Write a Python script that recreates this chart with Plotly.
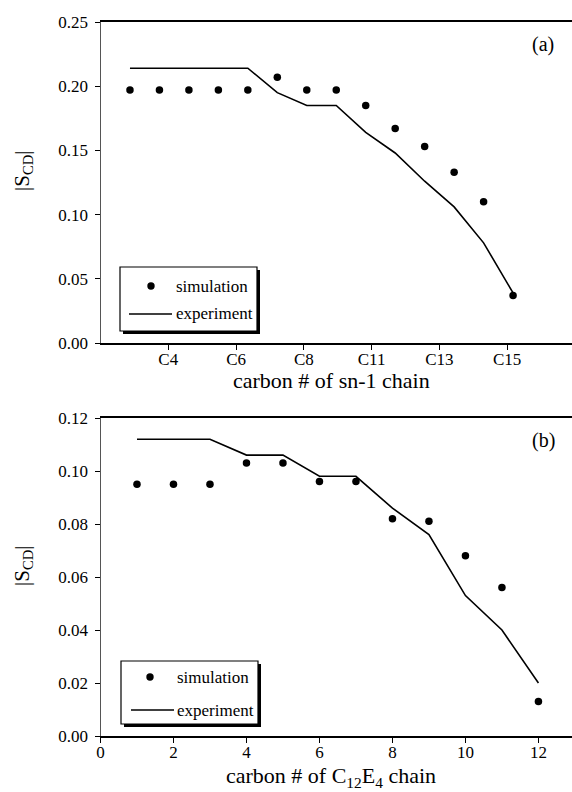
import plotly.graph_objects as go

W, H = 572, 792
FONT = "Liberation Serif"

# ---- panel (a): order parameter along the sn-1 chain ----
sn1_pos = list(range(1, 15))
sn1_sim = [0.197, 0.197, 0.197, 0.197, 0.197, 0.207, 0.197, 0.197,
           0.185, 0.167, 0.153, 0.133, 0.110, 0.037]
sn1_exp = [0.214, 0.214, 0.214, 0.214, 0.214, 0.195, 0.185, 0.185,
           0.164, 0.148, 0.126, 0.106, 0.078, 0.039]
sn1_tick_text = ["C4", "C6", "C8", "C11", "C13", "C15"]
sn1_tick_pos = [2.3, 4.6, 6.9, 9.2, 11.5, 13.8]
sn1_yticks = [0.00, 0.05, 0.10, 0.15, 0.20, 0.25]

# ---- panel (b): order parameter along the C12E4 chain ----
c12_pos = list(range(1, 13))
c12_sim = [0.095, 0.095, 0.095, 0.103, 0.103, 0.096, 0.096, 0.082,
           0.081, 0.068, 0.056, 0.013]
c12_exp = [0.112, 0.112, 0.112, 0.106, 0.106, 0.098, 0.098, 0.086,
           0.076, 0.053, 0.040, 0.020]
c12_xticks = [0, 2, 4, 6, 8, 10, 12]
c12_yticks = [0.00, 0.02, 0.04, 0.06, 0.08, 0.10, 0.12]


def fx(px):
    return px / W


def fy(py):
    return 1 - py / H


fig = go.Figure()

for xa, ya, xs, sim, exp in [("x", "y", sn1_pos, sn1_sim, sn1_exp),
                             ("x2", "y2", c12_pos, c12_sim, c12_exp)]:
    fig.add_trace(go.Scatter(x=xs, y=exp, mode="lines", xaxis=xa, yaxis=ya,
                             line=dict(color="black", width=1.6),
                             name="experiment", showlegend=False))
    fig.add_trace(go.Scatter(x=xs, y=sim, mode="markers", xaxis=xa, yaxis=ya,
                             marker=dict(color="black", size=7.5),
                             name="simulation", showlegend=False))

x_common = dict(showgrid=False, zeroline=False, showline=True, linecolor="black",
                linewidth=1.5, mirror=True, ticks="outside", ticklen=5, tickwidth=1,
                tickcolor="black", tickfont=dict(family=FONT, size=17, color="black"),
                automargin=False, fixedrange=True, ticklabelstandoff=-5)
y_common = dict(showgrid=False, zeroline=False, showline=True, linecolor="#555",
                linewidth=1, ticks="outside", ticklen=5, tickwidth=1,
                tickcolor="black", tickformat=".2f",
                tickfont=dict(family=FONT, size=17, color="black"),
                automargin=False, fixedrange=True, ticklabelstandoff=3)

fig.update_layout(
    width=W, height=H,
    margin=dict(l=0, r=0, t=0, b=0),
    paper_bgcolor="white", plot_bgcolor="white",
    showlegend=False,
    xaxis=dict(domain=[fx(100.5), 1], range=[0, 16], anchor="y",
               tickvals=sn1_tick_pos, ticktext=sn1_tick_text, **x_common),
    yaxis=dict(domain=[fy(343), fy(22)], range=[0, 0.25], anchor="x",
               tickvals=sn1_yticks, **y_common),
    xaxis2=dict(domain=[fx(100.5), 1], range=[0, 12.92], anchor="y2",
                tickvals=c12_xticks, **x_common),
    yaxis2=dict(domain=[fy(736), fy(418)], range=[0, 0.12], anchor="x2",
                tickvals=c12_yticks, **y_common),
)

ann = []
shapes = []
tfont = dict(family=FONT, size=22, color="black")

# axis titles and panel tags
for ymid in (171, 566):
    ann.append(dict(x=fx(23), y=fy(ymid), xref="paper", yref="paper",
                    text="|S<sub>CD</sub>|", textangle=-90, showarrow=False,
                    font=dict(family=FONT, size=21, color="black"),
                    xanchor="center", yanchor="middle"))
ann.append(dict(x=fx(331), y=fy(380), xref="paper", yref="paper",
                text="carbon # of sn-1 chain", showarrow=False, font=tfont,
                xanchor="center", yanchor="middle"))
ann.append(dict(x=fx(331), y=fy(777), xref="paper", yref="paper",
                text="carbon # of C<sub>12</sub>E<sub>4</sub> chain", showarrow=False,
                font=tfont, xanchor="center", yanchor="middle"))
ann.append(dict(x=fx(543), y=fy(44), xref="paper", yref="paper", text="(a)",
                showarrow=False, font=dict(family=FONT, size=20, color="black"),
                xanchor="center", yanchor="middle"))
ann.append(dict(x=fx(543), y=fy(440), xref="paper", yref="paper", text="(b)",
                showarrow=False, font=dict(family=FONT, size=20, color="black"),
                xanchor="center", yanchor="middle"))


def draw_key(x0, y0, x1, y1, dot_x, row1, row2, line_x0, line_x1, text_x):
    # drop shadow, framed box, symbol samples and labels
    shapes.append(dict(type="rect", xref="paper", yref="paper",
                       x0=fx(x0 + 3), x1=fx(x1 + 3), y0=fy(y1 + 3), y1=fy(y0 + 3),
                       fillcolor="black", line=dict(width=0), layer="above"))
    shapes.append(dict(type="rect", xref="paper", yref="paper",
                       x0=fx(x0), x1=fx(x1), y0=fy(y1), y1=fy(y0),
                       fillcolor="white", line=dict(color="black", width=1.2),
                       layer="above"))
    r = 3.7
    shapes.append(dict(type="circle", xref="paper", yref="paper",
                       x0=fx(dot_x - r), x1=fx(dot_x + r),
                       y0=fy(row1 + r), y1=fy(row1 - r),
                       fillcolor="black", line=dict(width=0), layer="above"))
    shapes.append(dict(type="line", xref="paper", yref="paper",
                       x0=fx(line_x0), x1=fx(line_x1), y0=fy(row2), y1=fy(row2),
                       line=dict(color="black", width=1.6), layer="above"))
    for txt, row in (("simulation", row1), ("experiment", row2)):
        ann.append(dict(x=fx(text_x), y=fy(row), xref="paper", yref="paper",
                        text=txt, showarrow=False, xanchor="left", yanchor="middle",
                        font=dict(family=FONT, size=17, color="black")))


draw_key(120, 267, 257, 331, 151, 286, 314, 129, 172, 174)
draw_key(121, 661, 258, 724, 150, 677, 710, 131, 174, 175)

fig.update_layout(annotations=ann, shapes=shapes)

fig.write_html("out.html")
